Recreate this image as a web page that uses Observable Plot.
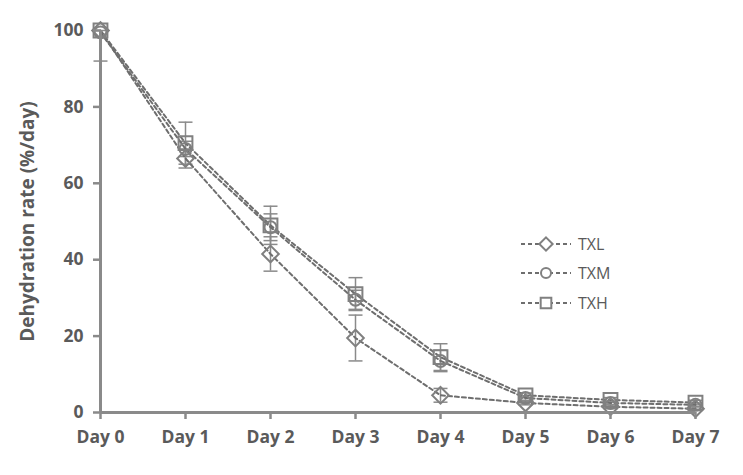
<!DOCTYPE html>
<html>
<head>
<meta charset="utf-8">
<script src="https://cdn.jsdelivr.net/npm/d3@7"></script>
<script src="https://cdn.jsdelivr.net/npm/@observablehq/plot@0.6"></script>
<style>
  html, body { margin: 0; padding: 0; background: #fff; }
  #wrap { position: relative; width: 743px; height: 475px; }
  #legend { position: absolute; left: 0; top: 0; pointer-events: none; }
  text { font-family: "Open Sans", sans-serif; }
</style>
</head>
<body>
<div id="wrap"></div>
<script>
const days = ["Day 0", "Day 1", "Day 2", "Day 3", "Day 4", "Day 5", "Day 6", "Day 7"];
const seriesNames = ["TXL", "TXM", "TXH"];
const txl = [100, 66.5, 41.5, 19.5, 4.5, 2.5, 1.5, 1.0];
const txm = [99.5, 69.0, 48.5, 29.5, 13.5, 3.8, 2.5, 2.0];
const txh = [100, 70.5, 49.0, 31.0, 14.5, 4.5, 3.3, 2.6];
const errL = [0, 2.5, 4.5, 6.0, 1.8, 0.5, 0.5, 0.5];
const errM = [0, 2.0, 3.5, 2.5, 2.8, 0.6, 0.5, 0.5];
const errH = [8, 5.5, 5.0, 4.3, 3.5, 0.6, 0.6, 0.6];
const yTicks = [0, 20, 40, 60, 80, 100];

const seriesValues = [txl, txm, txh];
const seriesErr = [errL, errM, errH];
const symbols = {TXL: "diamond2", TXM: "circle", TXH: "square"};
const radii = {TXL: 7.5, TXM: 6, TXH: 7.8};

const data = [];
seriesNames.forEach((s, si) => {
  days.forEach((d, i) => {
    const v = seriesValues[si][i], e = seriesErr[si][i];
    data.push({series: s, day: d, value: v, lo: Math.max(0, v - e), hi: Math.min(100, v + e), err: e});
  });
});
const errData = data.filter(d => d.err > 0);

const capSymbol = {
  draw(ctx, size) {
    const r = Math.sqrt(size / Math.PI);
    ctx.moveTo(-r, 0); ctx.lineTo(r, 0);
  }
};

const gray = "#6e6e6e";
const axisGray = "#8a8a8a";
const textGray = "#5a5a5a";

const chart = Plot.plot({
  width: 743,
  height: 475,
  marginLeft: 100,
  marginRight: 48,
  marginTop: 30,
  marginBottom: 63,
  style: {fontFamily: "'Open Sans', sans-serif", fontSize: "17.5px", background: "#fff"},
  x: {type: "point", domain: days, padding: 0, label: null},
  y: {domain: [0, 100], label: null},
  marks: [
    Plot.ruleX(errData, {x: "day", y1: "lo", y2: "hi", stroke: axisGray, strokeWidth: 1.5}),
    Plot.dot(errData, {x: "day", y: "hi", symbol: capSymbol, r: 7, stroke: axisGray, strokeWidth: 1.5}),
    Plot.dot(errData, {x: "day", y: "lo", symbol: capSymbol, r: 7, stroke: axisGray, strokeWidth: 1.5}),
    Plot.line(data, {x: "day", y: "value", z: "series", stroke: gray, strokeWidth: 2, strokeDasharray: "4,3"}),
    ...seriesNames.map(s => Plot.dot(data.filter(d => d.series === s), {
      x: "day", y: "value", symbol: symbols[s], r: radii[s], fill: "none", stroke: "#808080", strokeWidth: 2
    })),
    Plot.ruleY([0], {stroke: axisGray, strokeWidth: 3}),
    Plot.ruleX(["Day 0"], {stroke: axisGray, strokeWidth: 3}),
    Plot.axisY({ticks: yTicks, tickSize: 7, tickPadding: 10, stroke: axisGray, strokeWidth: 2.5,
      fill: textGray, fontWeight: "bold", label: null}),
    Plot.axisX({tickSize: 7, tickPadding: 11, stroke: axisGray, strokeWidth: 2.5,
      fill: textGray, fontWeight: "bold", label: null}),
    Plot.text(["Dehydration rate (%/day)"], {frameAnchor: "left", textAnchor: "middle", dx: -73, rotate: -90,
      fontSize: 19, fontWeight: "bold", fill: textGray})
  ]
});
document.getElementById("wrap").appendChild(chart);

// legend overlay
const leg = d3.select("#wrap").append("svg").attr("id", "legend").attr("width", 743).attr("height", 475);
const legRows = [244, 273, 303];
const symGen = {TXL: d3.symbolDiamond2, TXM: d3.symbolCircle, TXH: d3.symbolSquare};
seriesNames.forEach((s, i) => {
  const g = leg.append("g").attr("transform", `translate(0,${legRows[i]})`);
  g.append("line").attr("x1", 521).attr("x2", 571).attr("stroke", gray).attr("stroke-width", 2).attr("stroke-dasharray", "4,3");
  g.append("path").attr("transform", "translate(546,0)")
    .attr("d", d3.symbol(symGen[s], Math.PI * (s === "TXM" ? 5 : 6) ** 2)())
    .attr("fill", "#fff").attr("stroke", "#808080").attr("stroke-width", 2);
  g.append("text").attr("x", 578).attr("y", 0).attr("dy", "0.35em").attr("font-size", 16).attr("fill", textGray).text(s);
});
</script>
</body>
</html>
